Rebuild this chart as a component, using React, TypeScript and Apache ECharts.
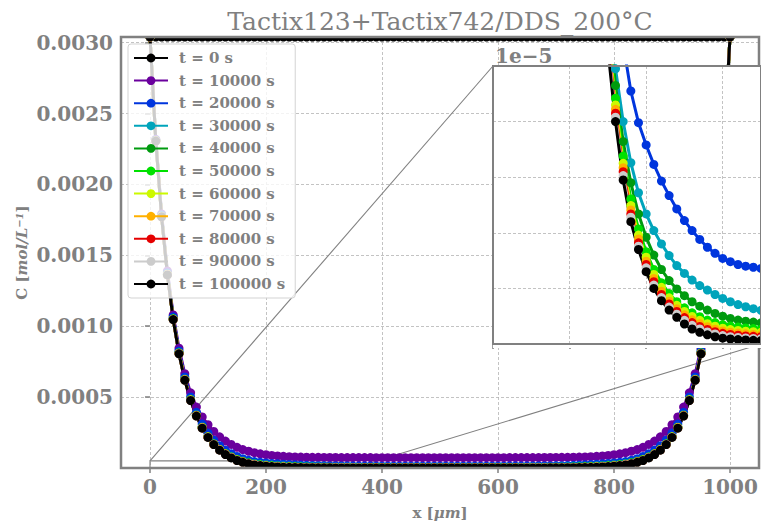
import React, { useEffect, useRef } from "react";
import * as echarts from "echarts";

// x positions across the film [µm]
const X_UM = [
  0, 10, 20, 30, 40, 50, 60, 70, 80, 90, 100, 110, 120, 130, 140, 150, 160, 170, 180, 190,
  200, 210, 220, 230, 240, 250, 260, 270, 280, 290, 300, 310, 320, 330, 340, 350, 360, 370, 380, 390,
  400, 410, 420, 430, 440, 450, 460, 470, 480, 490, 500, 510, 520, 530, 540, 550, 560, 570, 580, 590,
  600, 610, 620, 630, 640, 650, 660, 670, 680, 690, 700, 710, 720, 730, 740, 750, 760, 770, 780, 790,
  800, 810, 820, 830, 840, 850, 860, 870, 880, 890, 900, 910, 920, 930, 940, 950, 960, 970, 980, 990, 1000,
];

// concentration values in µmol/L (multiplied by 1e-6 to get mol/L)
const C_T0 = [
  3040, 3040, 3040, 3040, 3040, 3040, 3040, 3040, 3040, 3040, 3040, 3040, 3040, 3040, 3040, 3040, 3040, 3040, 3040, 3040,
  3040, 3040, 3040, 3040, 3040, 3040, 3040, 3040, 3040, 3040, 3040, 3040, 3040, 3040, 3040, 3040, 3040, 3040, 3040, 3040,
  3040, 3040, 3040, 3040, 3040, 3040, 3040, 3040, 3040, 3040, 3040, 3040, 3040, 3040, 3040, 3040, 3040, 3040, 3040, 3040,
  3040, 3040, 3040, 3040, 3040, 3040, 3040, 3040, 3040, 3040, 3040, 3040, 3040, 3040, 3040, 3040, 3040, 3040, 3040, 3040,
  3040, 3040, 3040, 3040, 3040, 3040, 3040, 3040, 3040, 3040, 3040, 3040, 3040, 3040, 3040, 3040, 3040, 3040, 3040, 3040, 3040,
];
const C_T10000 = [
  3040, 2318, 1792, 1390, 1080, 845, 665, 530, 430, 360, 305, 258, 220, 190, 166, 146, 130, 118, 108, 100,
  94, 89, 85, 82, 80, 78, 77, 76, 75.5, 75, 74.5, 74.2, 74, 73.8, 73.6, 73.5, 73.4, 73.3, 73.2, 73.1,
  73, 73, 72.9, 72.9, 72.8, 72.8, 72.8, 72.7, 72.7, 72.7, 72.7,
  72.7, 72.7, 72.7, 72.8, 72.8, 72.8, 72.9, 72.9, 73, 73, 73.1, 73.2, 73.3, 73.4, 73.5, 73.6, 73.8, 74, 74.2, 74.5,
  75, 75.5, 76, 77, 78, 80, 82, 85, 89, 94, 100, 108, 118, 130, 146, 166, 190, 220, 258, 305,
  360, 430, 530, 665, 845, 1080, 1390, 1792, 2318, 3040,
];
const C_T20000 = [
  3040, 2314, 1785, 1378, 1066, 826, 642, 501, 393, 310, 246, 196, 157, 126, 101, 81, 66, 54, 45.5, 39.8,
  35.8, 32.3, 29.3, 26.7, 24.3, 22.2, 20.4, 18.8, 17.4, 16.3, 15.4, 14.8, 14.3, 14, 13.8, 13.6, 13.5, 13.4, 13.3, 13.2,
  13.15, 13.1, 13.05, 13, 13, 12.95, 12.95, 12.9, 12.9, 12.9, 12.9,
  12.9, 12.9, 12.9, 12.95, 12.95, 13, 13, 13.05, 13.1, 13.15, 13.2, 13.3, 13.4, 13.5, 13.6, 13.8, 14, 14.3, 14.8, 15.4,
  16.3, 17.4, 18.8, 20.4, 22.2, 24.3, 26.7, 29.3, 32.3, 35.8, 39.8, 45.5, 54, 66, 81, 101, 126, 157, 196, 246,
  310, 393, 501, 642, 826, 1066, 1378, 1785, 2314, 3040,
];
const C_T30000 = [
  3040, 2310, 1778, 1369, 1054, 813, 627, 485, 375, 289, 222, 171, 133, 103, 80.5, 62.5, 49.5, 40, 32.6, 27.2,
  23.4, 20.4, 18, 15.9, 14.1, 12.7, 11.5, 10.5, 9.7, 8.9, 8.2, 7.6, 7.1, 6.7, 6.35, 6.05, 5.8, 5.6, 5.42, 5.28,
  5.16, 5.06, 4.98, 4.92, 4.87, 4.83, 4.8, 4.78, 4.77, 4.76, 4.75,
  4.76, 4.77, 4.78, 4.8, 4.83, 4.87, 4.92, 4.98, 5.06, 5.16, 5.28, 5.42, 5.6, 5.8, 6.05, 6.35, 6.7, 7.1, 7.6, 8.2,
  8.9, 9.7, 10.5, 11.5, 12.7, 14.1, 15.9, 18, 20.4, 23.4, 27.2, 32.6, 40, 49.5, 62.5, 80.5, 103, 133, 171, 222,
  289, 375, 485, 627, 813, 1054, 1369, 1778, 2310, 3040,
];
const C_T40000 = [
  3040, 2309, 1776, 1367, 1052, 811, 625, 482, 372, 287, 221, 170, 131, 101, 78, 60, 46.5, 36.4, 29, 23.4,
  19.2, 16, 13.4, 11.4, 9.9, 8.7, 7.6, 6.8, 6.1, 5.5, 5, 4.6, 4.3, 4.1, 3.95, 3.8, 3.7, 3.6, 3.52, 3.46,
  3.41, 3.37, 3.34, 3.32, 3.3, 3.28, 3.27, 3.26, 3.26, 3.25, 3.25,
  3.25, 3.26, 3.26, 3.27, 3.28, 3.3, 3.32, 3.34, 3.37, 3.41, 3.46, 3.52, 3.6, 3.7, 3.8, 3.95, 4.1, 4.3, 4.6, 5,
  5.5, 6.1, 6.8, 7.6, 8.7, 9.9, 11.4, 13.4, 16, 19.2, 23.4, 29, 36.4, 46.5, 60, 78, 101, 131, 170, 221,
  287, 372, 482, 625, 811, 1052, 1367, 1776, 2309, 3040,
];
const C_T50000 = [
  3040, 2308, 1775, 1366, 1051, 810, 624, 481, 371, 286, 220, 169, 130, 100, 76.5, 57.5, 44.2, 33.8, 26.1, 20.7,
  16.6, 13.4, 11, 9.1, 7.6, 6.5, 5.6, 4.9, 4.3, 3.85, 3.5, 3.25, 3.05, 2.9, 2.78, 2.68, 2.6, 2.53, 2.48, 2.44,
  2.41, 2.38, 2.36, 2.35, 2.34, 2.33, 2.32, 2.32, 2.31, 2.31, 2.31,
  2.31, 2.31, 2.32, 2.32, 2.33, 2.34, 2.35, 2.36, 2.38, 2.41, 2.44, 2.48, 2.53, 2.6, 2.68, 2.78, 2.9, 3.05, 3.25, 3.5,
  3.85, 4.3, 4.9, 5.6, 6.5, 7.6, 9.1, 11, 13.4, 16.6, 20.7, 26.1, 33.8, 44.2, 57.5, 76.5, 100, 130, 169, 220,
  286, 371, 481, 624, 810, 1051, 1366, 1775, 2308, 3040,
];
const C_T60000 = [
  3040, 2308, 1774, 1365, 1050, 809, 623, 480, 370, 285, 219, 168, 129, 99, 75.5, 56.3, 43, 32.5, 24.9, 19.6,
  15.6, 12.5, 10.2, 8.3, 6.95, 5.85, 4.95, 4.25, 3.65, 3.2, 2.85, 2.6, 2.43, 2.3, 2.2, 2.1, 2.02, 1.96, 1.91, 1.88,
  1.85, 1.83, 1.81, 1.8, 1.79, 1.78, 1.77, 1.77, 1.76, 1.76, 1.76,
  1.76, 1.76, 1.77, 1.77, 1.78, 1.79, 1.8, 1.81, 1.83, 1.85, 1.88, 1.91, 1.96, 2.02, 2.1, 2.2, 2.3, 2.43, 2.6, 2.85,
  3.2, 3.65, 4.25, 4.95, 5.85, 6.95, 8.3, 10.2, 12.5, 15.6, 19.6, 24.9, 32.5, 43, 56.3, 75.5, 99, 129, 168, 219,
  285, 370, 480, 623, 809, 1050, 1365, 1774, 2308, 3040,
];
const C_T70000 = [
  3040, 2307, 1774, 1364, 1049, 808, 622, 479, 369, 284, 218, 167, 128, 98, 74.5, 55.5, 42.2, 31.7, 24.1, 18.9,
  14.9, 11.8, 9.5, 7.7, 6.35, 5.25, 4.35, 3.65, 3.1, 2.65, 2.35, 2.12, 1.96, 1.83, 1.73, 1.65, 1.58, 1.53, 1.49, 1.46,
  1.44, 1.42, 1.4, 1.39, 1.38, 1.37, 1.37, 1.36, 1.36, 1.36, 1.35,
  1.36, 1.36, 1.36, 1.37, 1.37, 1.38, 1.39, 1.4, 1.42, 1.44, 1.46, 1.49, 1.53, 1.58, 1.65, 1.73, 1.83, 1.96, 2.12, 2.35,
  2.65, 3.1, 3.65, 4.35, 5.25, 6.35, 7.7, 9.5, 11.8, 14.9, 18.9, 24.1, 31.7, 42.2, 55.5, 74.5, 98, 128, 167, 218,
  284, 369, 479, 622, 808, 1049, 1364, 1774, 2307, 3040,
];
const C_T80000 = [
  3040, 2307, 1773, 1363, 1048, 807, 621, 478, 368, 283, 217.5, 166.5, 127.5, 97, 73.5, 54.8, 41.5, 31, 23.4, 18.2,
  14.3, 11.2, 8.9, 7.2, 5.85, 4.75, 3.85, 3.15, 2.62, 2.22, 1.92, 1.72, 1.57, 1.46, 1.38, 1.31, 1.26, 1.22, 1.18, 1.15,
  1.13, 1.11, 1.1, 1.09, 1.08, 1.07, 1.07, 1.06, 1.06, 1.06, 1.05,
  1.06, 1.06, 1.06, 1.07, 1.07, 1.08, 1.09, 1.1, 1.11, 1.13, 1.15, 1.18, 1.22, 1.26, 1.31, 1.38, 1.46, 1.57, 1.72, 1.92,
  2.22, 2.62, 3.15, 3.85, 4.75, 5.85, 7.2, 8.9, 11.2, 14.3, 18.2, 23.4, 31, 41.5, 54.8, 73.5, 97, 127.5, 166.5, 217.5,
  283, 368, 478, 621, 807, 1048, 1363, 1773, 2307, 3040,
];
const C_T90000 = [
  3040, 2306, 1773, 1363, 1048, 806, 620, 477, 367, 282, 217, 166, 127, 96, 72.5, 54, 40.8, 30.3, 22.8, 17.6,
  13.7, 10.6, 8.35, 6.65, 5.35, 4.25, 3.35, 2.7, 2.18, 1.82, 1.52, 1.32, 1.18, 1.08, 1, 0.95, 0.9, 0.87, 0.84, 0.82,
  0.8, 0.79, 0.78, 0.77, 0.76, 0.76, 0.75, 0.75, 0.75, 0.74, 0.74,
  0.74, 0.75, 0.75, 0.75, 0.76, 0.76, 0.77, 0.78, 0.79, 0.8, 0.82, 0.84, 0.87, 0.9, 0.95, 1, 1.08, 1.18, 1.32, 1.52,
  1.82, 2.18, 2.7, 3.35, 4.25, 5.35, 6.65, 8.35, 10.6, 13.7, 17.6, 22.8, 30.3, 40.8, 54, 72.5, 96, 127, 166, 217,
  282, 367, 477, 620, 806, 1048, 1363, 1773, 2306, 3040,
];
const C_T100000 = [
  3040, 2306, 1772, 1362, 1047, 805, 619, 476, 366, 281, 216, 165, 126, 95, 71, 53, 40, 29.5, 22, 17,
  13, 10, 7.8, 6.1, 4.8, 3.6, 2.7, 2.1, 1.65, 1.3, 1.05, 0.9, 0.8, 0.72, 0.66, 0.62, 0.58, 0.55, 0.53, 0.51,
  0.5, 0.49, 0.48, 0.47, 0.47, 0.46, 0.46, 0.46, 0.45, 0.45, 0.45,
  0.45, 0.45, 0.46, 0.46, 0.46, 0.47, 0.47, 0.48, 0.49, 0.5, 0.51, 0.53, 0.55, 0.58, 0.62, 0.66, 0.72, 0.8, 0.9, 1.05,
  1.3, 1.65, 2.1, 2.7, 3.6, 4.8, 6.1, 7.8, 10, 13, 17, 22, 29.5, 40, 53, 71, 95, 126, 165, 216,
  281, 366, 476, 619, 805, 1047, 1362, 1772, 2306, 3040,
];

const SERIES_NAMES = [
  "t = 0 s", "t = 10000 s", "t = 20000 s", "t = 30000 s", "t = 40000 s", "t = 50000 s",
  "t = 60000 s", "t = 70000 s", "t = 80000 s", "t = 90000 s", "t = 100000 s",
];
const SERIES_COLORS = [
  "#000000", "#6a009d", "#0035dd", "#00a4bb", "#009b0f", "#00e100",
  "#ccf900", "#ffb000", "#e50000", "#cccccc", "#000000",
];
const X_TICKS = [0, 200, 400, 600, 800, 1000];
const Y_TICK_MARKS = [0, 0.0005, 0.001, 0.0015, 0.002, 0.0025, 0.003];
const Y_TICK_LABELS = [0.0005, 0.001, 0.0015, 0.002, 0.0025, 0.003];

const MAIN_X = [-50, 1050];
const MAIN_Y = [0, 0.00304];
const INSET_X = [0, 350];
const INSET_Y = [0, 5e-5];

export default function App() {
  const ref = useRef<HTMLDivElement>(null);

  useEffect(() => {
    if (!ref.current) return;
    const chart = echarts.init(ref.current, null, { renderer: "svg" });
    const serif = "DejaVu Serif";
    const gray = "#808080";
    const gridColor = "#b4b4b4";
    const values = [C_T0, C_T10000, C_T20000, C_T30000, C_T40000, C_T50000, C_T60000, C_T70000, C_T80000, C_T90000, C_T100000];
    const toData = (arr: number[]) => X_UM.map((x, i) => [x, arr[i] * 1e-6]);

    // each curve = a line (with legend icon) + a scatter of every marker
    const makeSeries = (axisIndex: number, z: number) => {
      const out: any[] = [];
      SERIES_NAMES.forEach((name, k) => {
        const data = toData(values[k]);
        out.push({
          type: "line", name, xAxisIndex: axisIndex, yAxisIndex: axisIndex, data,
          symbol: "circle", symbolSize: 9, showSymbol: false, clip: true, z, silent: true,
          emphasis: { disabled: true },
          lineStyle: { color: SERIES_COLORS[k], width: 3 },
          itemStyle: { color: SERIES_COLORS[k] },
        });
        out.push({
          type: "scatter", name, xAxisIndex: axisIndex, yAxisIndex: axisIndex, data,
          symbol: "circle", symbolSize: 9, clip: true, z, silent: true,
          emphasis: { disabled: true },
          itemStyle: { color: SERIES_COLORS[k], opacity: 1 },
        });
      });
      return out;
    };

    const labelStyle = { color: gray, fontFamily: serif, fontWeight: "bold", fontSize: 20 };
    const splitLine = { show: true, lineStyle: { color: gridColor, width: 0.8, type: [3, 2] } };
    const tickLine = { color: gray, width: 1.5 };

    const option: any = {
      animation: false,
      grid: [
        { left: 121, top: 37, width: 638, height: 431, show: false },
        { left: 493, top: 66, width: 280, height: 278, show: true, backgroundColor: "#ffffff", borderWidth: 0, z: 10 },
      ],
      xAxis: [
        {
          type: "value", gridIndex: 0, position: "bottom", min: MAIN_X[0], max: MAIN_X[1],
          axisLine: { show: false },
          axisTick: { show: false, customValues: X_TICKS },
          axisLabel: { ...labelStyle, customValues: X_TICKS, margin: 9, formatter: (v: number) => String(v) },
          splitLine,
        },
        {
          type: "value", gridIndex: 1, position: "bottom", min: INSET_X[0], max: INSET_X[1], interval: 100, z: 11,
          axisLine: { show: false },
          axisTick: { show: true, length: 5, lineStyle: tickLine },
          axisLabel: { show: false },
          splitLine,
        },
        {
          // tick marks of the main axis, drawn above the clipping masks
          type: "value", gridIndex: 0, position: "bottom", offset: 0, min: MAIN_X[0], max: MAIN_X[1], z: 4,
          axisLine: { show: false },
          axisTick: { show: true, customValues: X_TICKS, length: 5, lineStyle: tickLine },
          axisLabel: { show: false },
          splitLine: { show: false },
        },
      ],
      yAxis: [
        {
          type: "value", gridIndex: 0, min: MAIN_Y[0], max: MAIN_Y[1],
          axisLine: { show: false },
          axisTick: { show: true, customValues: Y_TICK_MARKS, length: 5, lineStyle: tickLine },
          axisLabel: { ...labelStyle, customValues: Y_TICK_LABELS, margin: 8, formatter: (v: number) => v.toFixed(4) },
          splitLine,
        },
        {
          type: "value", gridIndex: 1, min: INSET_Y[0], max: INSET_Y[1], interval: 1e-5, z: 11,
          axisLine: { show: false },
          axisTick: { show: false },
          axisLabel: { show: false },
          splitLine,
        },
      ],
      legend: {
        show: true,
        orient: "vertical",
        left: 128,
        top: 44,
        data: SERIES_NAMES,
        itemWidth: 34,
        itemHeight: 11,
        itemGap: 6.6,
        padding: [6, 10, 6, 5],
        backgroundColor: "rgba(255,255,255,0.8)",
        borderColor: "#d3d3d3",
        borderWidth: 1,
        borderRadius: 3,
        selectedMode: false,
        z: 5,
        textStyle: { color: gray, fontFamily: serif, fontWeight: "bold", fontSize: 15, lineHeight: 16, padding: [0, 0, 0, 6] },
      },
      series: [...makeSeries(0, 2), ...makeSeries(1, 12)],
    };
    chart.setOption(option);

    const px = (g: number, p: number[]) => chart.convertToPixel({ gridIndex: g } as any, p) as number[];
    const mTL = px(0, [MAIN_X[0], MAIN_Y[1]]);
    const mBR = px(0, [MAIN_X[1], MAIN_Y[0]]);
    const iTL = px(1, [INSET_X[0], INSET_Y[1]]);
    const iBR = px(1, [INSET_X[1], INSET_Y[0]]);
    const rTL = px(0, [INSET_X[0], INSET_Y[1]]);
    const rBR = px(0, [INSET_X[1], INSET_Y[0]]);
    const thin = { stroke: gray, lineWidth: 1.1, fill: "none" };
    const white = { fill: "#ffffff", stroke: "none" };

    chart.setOption({
      graphic: [
        { type: "rect", z: 1, silent: true, shape: { x: rTL[0], y: rTL[1], width: rBR[0] - rTL[0], height: rBR[1] - rTL[1] }, style: thin },
        { type: "line", z: 1, silent: true, shape: { x1: rTL[0], y1: rTL[1], x2: iTL[0], y2: iTL[1] }, style: thin },
        { type: "line", z: 1, silent: true, shape: { x1: rBR[0], y1: rBR[1], x2: iBR[0], y2: iBR[1] }, style: thin },
        // masks that clip markers at the axes frame
        { type: "rect", z: 2.5, silent: true, shape: { x: mTL[0] - 4, y: 0, width: mBR[0] - mTL[0] + 8, height: mTL[1] }, style: white },
        { type: "rect", z: 2.5, silent: true, shape: { x: mTL[0] - 4, y: mBR[1], width: mBR[0] - mTL[0] + 8, height: 7 }, style: white },
        { type: "rect", z: 3, silent: true, shape: { x: mTL[0], y: mTL[1], width: mBR[0] - mTL[0], height: mBR[1] - mTL[1] }, style: { stroke: gray, lineWidth: 2.5, fill: "none" } },
        // inset bottom mask (markers clipped at inset frame)
        { type: "rect", z: 12.5, silent: true, shape: { x: iTL[0], y: iBR[1], width: iBR[0] - iTL[0], height: 4 }, style: white },
        { type: "rect", z: 13, silent: true, shape: { x: iTL[0], y: iTL[1], width: iBR[0] - iTL[0], height: iBR[1] - iTL[1] }, style: { stroke: gray, lineWidth: 2, fill: "none" } },
        {
          type: "text", z: 13, silent: true, x: iTL[0] + 2, y: iTL[1],
          style: { text: "1e\u22125", fill: gray, font: `bold 20px '${serif}'`, textAlign: "left", textVerticalAlign: "bottom" },
        },
        {
          type: "text", z: 13, silent: true, x: (mTL[0] + mBR[0]) / 2, y: 21,
          style: { text: "Tactix123+Tactix742/DDS_200°C", fill: gray, font: `25px '${serif}'`, textAlign: "center", textVerticalAlign: "middle" },
        },
        {
          type: "text", z: 13, silent: true, x: (mTL[0] + mBR[0]) / 2, y: 513,
          style: {
            text: "{b|x [}{i|\u03bcm}{b|]}", textAlign: "center", textVerticalAlign: "middle",
            rich: {
              b: { fill: gray, fontFamily: serif, fontWeight: "bold", fontSize: 15 },
              i: { fill: gray, fontFamily: serif, fontWeight: "bold", fontStyle: "italic", fontSize: 15 },
            },
          },
        },
        {
          type: "text", z: 13, silent: true, x: 22, y: (mTL[1] + mBR[1]) / 2, rotation: Math.PI / 2,
          style: {
            text: "{b|C [}{i|mol/L}{s|\u22121}{b|]}", textAlign: "center", textVerticalAlign: "middle",
            rich: {
              b: { fill: gray, fontFamily: serif, fontWeight: "bold", fontSize: 15 },
              i: { fill: gray, fontFamily: serif, fontWeight: "bold", fontStyle: "italic", fontSize: 15 },
              s: { fill: gray, fontFamily: serif, fontWeight: "bold", fontStyle: "italic", fontSize: 10, verticalAlign: "top", padding: [0, 0, 6, 0] },
            },
          },
        },
      ],
    });

    return () => chart.dispose();
  }, []);

  return <div ref={ref} style={{ position: "absolute", left: 0, top: 0, width: 761, height: 522 }} />;
}
